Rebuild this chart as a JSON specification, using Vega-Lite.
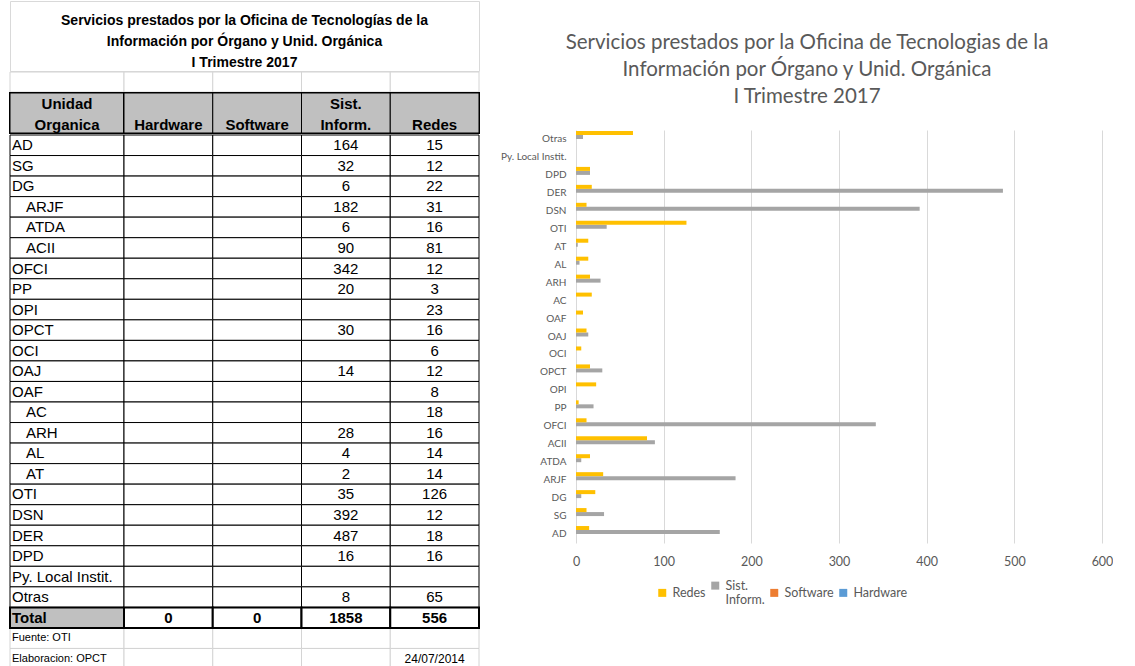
{
  "$schema": "https://vega.github.io/schema/vega-lite/v6.json",
  "background": "white",
  "padding": {"left": 8, "top": 0, "right": 0, "bottom": 0},
  "datasets": {
    "encabezado": [
      {"columna": "Unidad Organica"},
      {"columna": "Hardware"},
      {"columna": "Software"},
      {"columna": "Sist. Inform."},
      {"columna": "Redes"}
    ],
    "pie": [
      {"fila": "Fuente: OTI", "columna": "Hardware", "texto": null},
      {"fila": "Fuente: OTI", "columna": "Software", "texto": null},
      {"fila": "Fuente: OTI", "columna": "Sist. Inform.", "texto": null},
      {"fila": "Fuente: OTI", "columna": "Redes", "texto": null},
      {"fila": "Elaboracion: OPCT", "columna": "Hardware", "texto": null},
      {"fila": "Elaboracion: OPCT", "columna": "Software", "texto": null},
      {"fila": "Elaboracion: OPCT", "columna": "Sist. Inform.", "texto": null},
      {"fila": "Elaboracion: OPCT", "columna": "Redes", "texto": "24/07/2014"}
    ],
    "servicios": [
      {"unidad": "AD", "tipo": "Órgano", "serie": "Hardware", "valor": null},
      {"unidad": "AD", "tipo": "Órgano", "serie": "Software", "valor": null},
      {"unidad": "AD", "tipo": "Órgano", "serie": "Sist. Inform.", "valor": 164},
      {"unidad": "AD", "tipo": "Órgano", "serie": "Redes", "valor": 15},
      {"unidad": "SG", "tipo": "Órgano", "serie": "Hardware", "valor": null},
      {"unidad": "SG", "tipo": "Órgano", "serie": "Software", "valor": null},
      {"unidad": "SG", "tipo": "Órgano", "serie": "Sist. Inform.", "valor": 32},
      {"unidad": "SG", "tipo": "Órgano", "serie": "Redes", "valor": 12},
      {"unidad": "DG", "tipo": "Órgano", "serie": "Hardware", "valor": null},
      {"unidad": "DG", "tipo": "Órgano", "serie": "Software", "valor": null},
      {"unidad": "DG", "tipo": "Órgano", "serie": "Sist. Inform.", "valor": 6},
      {"unidad": "DG", "tipo": "Órgano", "serie": "Redes", "valor": 22},
      {"unidad": "ARJF", "tipo": "Unidad orgánica", "serie": "Hardware", "valor": null},
      {"unidad": "ARJF", "tipo": "Unidad orgánica", "serie": "Software", "valor": null},
      {"unidad": "ARJF", "tipo": "Unidad orgánica", "serie": "Sist. Inform.", "valor": 182},
      {"unidad": "ARJF", "tipo": "Unidad orgánica", "serie": "Redes", "valor": 31},
      {"unidad": "ATDA", "tipo": "Unidad orgánica", "serie": "Hardware", "valor": null},
      {"unidad": "ATDA", "tipo": "Unidad orgánica", "serie": "Software", "valor": null},
      {"unidad": "ATDA", "tipo": "Unidad orgánica", "serie": "Sist. Inform.", "valor": 6},
      {"unidad": "ATDA", "tipo": "Unidad orgánica", "serie": "Redes", "valor": 16},
      {"unidad": "ACII", "tipo": "Unidad orgánica", "serie": "Hardware", "valor": null},
      {"unidad": "ACII", "tipo": "Unidad orgánica", "serie": "Software", "valor": null},
      {"unidad": "ACII", "tipo": "Unidad orgánica", "serie": "Sist. Inform.", "valor": 90},
      {"unidad": "ACII", "tipo": "Unidad orgánica", "serie": "Redes", "valor": 81},
      {"unidad": "OFCI", "tipo": "Órgano", "serie": "Hardware", "valor": null},
      {"unidad": "OFCI", "tipo": "Órgano", "serie": "Software", "valor": null},
      {"unidad": "OFCI", "tipo": "Órgano", "serie": "Sist. Inform.", "valor": 342},
      {"unidad": "OFCI", "tipo": "Órgano", "serie": "Redes", "valor": 12},
      {"unidad": "PP", "tipo": "Órgano", "serie": "Hardware", "valor": null},
      {"unidad": "PP", "tipo": "Órgano", "serie": "Software", "valor": null},
      {"unidad": "PP", "tipo": "Órgano", "serie": "Sist. Inform.", "valor": 20},
      {"unidad": "PP", "tipo": "Órgano", "serie": "Redes", "valor": 3},
      {"unidad": "OPI", "tipo": "Órgano", "serie": "Hardware", "valor": null},
      {"unidad": "OPI", "tipo": "Órgano", "serie": "Software", "valor": null},
      {"unidad": "OPI", "tipo": "Órgano", "serie": "Sist. Inform.", "valor": null},
      {"unidad": "OPI", "tipo": "Órgano", "serie": "Redes", "valor": 23},
      {"unidad": "OPCT", "tipo": "Órgano", "serie": "Hardware", "valor": null},
      {"unidad": "OPCT", "tipo": "Órgano", "serie": "Software", "valor": null},
      {"unidad": "OPCT", "tipo": "Órgano", "serie": "Sist. Inform.", "valor": 30},
      {"unidad": "OPCT", "tipo": "Órgano", "serie": "Redes", "valor": 16},
      {"unidad": "OCI", "tipo": "Órgano", "serie": "Hardware", "valor": null},
      {"unidad": "OCI", "tipo": "Órgano", "serie": "Software", "valor": null},
      {"unidad": "OCI", "tipo": "Órgano", "serie": "Sist. Inform.", "valor": null},
      {"unidad": "OCI", "tipo": "Órgano", "serie": "Redes", "valor": 6},
      {"unidad": "OAJ", "tipo": "Órgano", "serie": "Hardware", "valor": null},
      {"unidad": "OAJ", "tipo": "Órgano", "serie": "Software", "valor": null},
      {"unidad": "OAJ", "tipo": "Órgano", "serie": "Sist. Inform.", "valor": 14},
      {"unidad": "OAJ", "tipo": "Órgano", "serie": "Redes", "valor": 12},
      {"unidad": "OAF", "tipo": "Órgano", "serie": "Hardware", "valor": null},
      {"unidad": "OAF", "tipo": "Órgano", "serie": "Software", "valor": null},
      {"unidad": "OAF", "tipo": "Órgano", "serie": "Sist. Inform.", "valor": null},
      {"unidad": "OAF", "tipo": "Órgano", "serie": "Redes", "valor": 8},
      {"unidad": "AC", "tipo": "Unidad orgánica", "serie": "Hardware", "valor": null},
      {"unidad": "AC", "tipo": "Unidad orgánica", "serie": "Software", "valor": null},
      {"unidad": "AC", "tipo": "Unidad orgánica", "serie": "Sist. Inform.", "valor": null},
      {"unidad": "AC", "tipo": "Unidad orgánica", "serie": "Redes", "valor": 18},
      {"unidad": "ARH", "tipo": "Unidad orgánica", "serie": "Hardware", "valor": null},
      {"unidad": "ARH", "tipo": "Unidad orgánica", "serie": "Software", "valor": null},
      {"unidad": "ARH", "tipo": "Unidad orgánica", "serie": "Sist. Inform.", "valor": 28},
      {"unidad": "ARH", "tipo": "Unidad orgánica", "serie": "Redes", "valor": 16},
      {"unidad": "AL", "tipo": "Unidad orgánica", "serie": "Hardware", "valor": null},
      {"unidad": "AL", "tipo": "Unidad orgánica", "serie": "Software", "valor": null},
      {"unidad": "AL", "tipo": "Unidad orgánica", "serie": "Sist. Inform.", "valor": 4},
      {"unidad": "AL", "tipo": "Unidad orgánica", "serie": "Redes", "valor": 14},
      {"unidad": "AT", "tipo": "Unidad orgánica", "serie": "Hardware", "valor": null},
      {"unidad": "AT", "tipo": "Unidad orgánica", "serie": "Software", "valor": null},
      {"unidad": "AT", "tipo": "Unidad orgánica", "serie": "Sist. Inform.", "valor": 2},
      {"unidad": "AT", "tipo": "Unidad orgánica", "serie": "Redes", "valor": 14},
      {"unidad": "OTI", "tipo": "Órgano", "serie": "Hardware", "valor": null},
      {"unidad": "OTI", "tipo": "Órgano", "serie": "Software", "valor": null},
      {"unidad": "OTI", "tipo": "Órgano", "serie": "Sist. Inform.", "valor": 35},
      {"unidad": "OTI", "tipo": "Órgano", "serie": "Redes", "valor": 126},
      {"unidad": "DSN", "tipo": "Órgano", "serie": "Hardware", "valor": null},
      {"unidad": "DSN", "tipo": "Órgano", "serie": "Software", "valor": null},
      {"unidad": "DSN", "tipo": "Órgano", "serie": "Sist. Inform.", "valor": 392},
      {"unidad": "DSN", "tipo": "Órgano", "serie": "Redes", "valor": 12},
      {"unidad": "DER", "tipo": "Órgano", "serie": "Hardware", "valor": null},
      {"unidad": "DER", "tipo": "Órgano", "serie": "Software", "valor": null},
      {"unidad": "DER", "tipo": "Órgano", "serie": "Sist. Inform.", "valor": 487},
      {"unidad": "DER", "tipo": "Órgano", "serie": "Redes", "valor": 18},
      {"unidad": "DPD", "tipo": "Órgano", "serie": "Hardware", "valor": null},
      {"unidad": "DPD", "tipo": "Órgano", "serie": "Software", "valor": null},
      {"unidad": "DPD", "tipo": "Órgano", "serie": "Sist. Inform.", "valor": 16},
      {"unidad": "DPD", "tipo": "Órgano", "serie": "Redes", "valor": 16},
      {"unidad": "Py. Local Instit.", "tipo": "Órgano", "serie": "Hardware", "valor": null},
      {"unidad": "Py. Local Instit.", "tipo": "Órgano", "serie": "Software", "valor": null},
      {"unidad": "Py. Local Instit.", "tipo": "Órgano", "serie": "Sist. Inform.", "valor": null},
      {"unidad": "Py. Local Instit.", "tipo": "Órgano", "serie": "Redes", "valor": null},
      {"unidad": "Otras", "tipo": "Órgano", "serie": "Hardware", "valor": null},
      {"unidad": "Otras", "tipo": "Órgano", "serie": "Software", "valor": null},
      {"unidad": "Otras", "tipo": "Órgano", "serie": "Sist. Inform.", "valor": 8},
      {"unidad": "Otras", "tipo": "Órgano", "serie": "Redes", "valor": 65},
      {"unidad": "Total", "tipo": "Total", "serie": "Hardware", "valor": 0},
      {"unidad": "Total", "tipo": "Total", "serie": "Software", "valor": 0},
      {"unidad": "Total", "tipo": "Total", "serie": "Sist. Inform.", "valor": 1858},
      {"unidad": "Total", "tipo": "Total", "serie": "Redes", "valor": 556}
    ]
  },
  "spacing": 19,
  "hconcat": [
    {
      "spacing": -3,
      "vconcat": [
        {
          "width": 469,
          "height": 70,
          "view": {"stroke": "#d9d9d9", "strokeWidth": 1},
          "data": {"values": [{"titulo": "Servicios prestados por la Oficina de Tecnologías de la|Información por Órgano y Unid. Orgánica|I Trimestre 2017"}]},
          "mark": {"type": "text", "lineBreak": "|", "fontWeight": "bold", "fontSize": 14, "lineHeight": 21, "align": "center", "baseline": "middle", "dy": -15, "color": "black"},
          "encoding": {"text": {"field": "titulo", "type": "nominal"}}
        },
        {
          "spacing": 0,
          "bounds": "flush",
          "hconcat": [
            {
              "width": 114,
              "height": 20,
              "data": {"name": "encabezado"},
              "transform": [{"filter": "datum.columna == 'Unidad Organica'"}],
              "mark": {"type": "rect", "fill": "white", "stroke": "#d4d4d4"},
              "encoding": {}
            },
            {
              "width": 355,
              "height": 20,
              "data": {"name": "encabezado"},
              "transform": [{"filter": "datum.columna != 'Unidad Organica'"}],
              "mark": {"type": "rect", "fill": "white", "stroke": "#d4d4d4"},
              "encoding": {
                "x": {"field": "columna", "type": "nominal", "scale": {"domain": ["Hardware", "Software", "Sist. Inform.", "Redes"], "paddingInner": 0, "paddingOuter": 0}, "axis": null}
              }
            }
          ]
        },
        {
          "spacing": 0,
          "bounds": "flush",
          "hconcat": [
            {
              "width": 114,
              "height": 40,
              "view": {"stroke": "black", "strokeWidth": 2},
              "data": {"name": "encabezado"},
              "transform": [{"filter": "datum.columna == 'Unidad Organica'"}],
              "layer": [
                {"mark": {"type": "rect", "fill": "#C0C0C0", "stroke": "black"}, "encoding": {}},
                {
                  "mark": {"type": "text", "fontWeight": "bold", "fontSize": 15, "lineBreak": " ", "lineHeight": 21, "align": "center", "baseline": "middle", "dy": -9.5, "color": "black"},
                  "encoding": {"text": {"field": "columna", "type": "nominal"}}
                }
              ]
            },
            {
              "width": 355,
              "height": 40,
              "view": {"stroke": "black", "strokeWidth": 2},
              "data": {"name": "encabezado"},
              "transform": [{"filter": "datum.columna != 'Unidad Organica'"}],
              "encoding": {
                "x": {"field": "columna", "type": "nominal", "scale": {"domain": ["Hardware", "Software", "Sist. Inform.", "Redes"], "paddingInner": 0, "paddingOuter": 0}, "axis": null}
              },
              "layer": [
                {"mark": {"type": "rect", "fill": "#C0C0C0", "stroke": "black"}},
                {
                  "transform": [{"filter": "indexof(datum.columna, ' ') >= 0"}],
                  "mark": {"type": "text", "fontWeight": "bold", "fontSize": 15, "lineBreak": " ", "lineHeight": 21, "align": "center", "baseline": "middle", "dy": -9.5, "color": "black"},
                  "encoding": {"text": {"field": "columna", "type": "nominal"}}
                },
                {
                  "transform": [{"filter": "indexof(datum.columna, ' ') < 0"}],
                  "mark": {"type": "text", "fontWeight": "bold", "fontSize": 15, "align": "center", "baseline": "middle", "dy": 11.5, "color": "black"},
                  "encoding": {"text": {"field": "columna", "type": "nominal"}}
                }
              ]
            }
          ]
        },
        {
          "spacing": 0,
          "bounds": "flush",
          "hconcat": [
            {
              "width": 114,
              "height": 534,
              "layer": [
                {
                  "data": {"name": "pie"},
                  "transform": [{"filter": "datum.columna == 'Redes'"}],
                  "mark": {"type": "rect", "fill": "white", "stroke": "#d4d4d4"},
                  "encoding": {
                    "y": {"field": "fila", "type": "nominal", "scale": {"domain": ["AD", "SG", "DG", "ARJF", "ATDA", "ACII", "OFCI", "PP", "OPI", "OPCT", "OCI", "OAJ", "OAF", "AC", "ARH", "AL", "AT", "OTI", "DSN", "DER", "DPD", "Py. Local Instit.", "Otras", "Total", "Fuente: OTI", "Elaboracion: OPCT"], "paddingInner": 0, "paddingOuter": 0}, "axis": null}
                  }
                },
                {
                  "data": {"name": "servicios"},
                  "transform": [{"filter": "datum.serie == 'Redes' && datum.tipo != 'Total'"}],
                  "mark": {"type": "rect", "fill": "white", "stroke": "black"},
                  "encoding": {"y": {"field": "unidad", "type": "nominal", "axis": null}}
                },
                {
                  "data": {"name": "servicios"},
                  "transform": [{"filter": "datum.serie == 'Redes' && datum.tipo == 'Total'"}],
                  "mark": {"type": "rect", "fill": "#C0C0C0", "stroke": "black", "strokeWidth": 2},
                  "encoding": {"y": {"field": "unidad", "type": "nominal", "axis": null}}
                },
                {
                  "data": {"name": "servicios"},
                  "transform": [{"filter": "datum.serie == 'Redes' && datum.tipo == 'Órgano'"}],
                  "mark": {"type": "text", "align": "left", "baseline": "middle", "fontSize": 15, "dx": -55, "color": "black"},
                  "encoding": {"y": {"field": "unidad", "type": "nominal", "axis": null}, "text": {"field": "unidad", "type": "nominal"}}
                },
                {
                  "data": {"name": "servicios"},
                  "transform": [{"filter": "datum.serie == 'Redes' && datum.tipo == 'Unidad orgánica'"}],
                  "mark": {"type": "text", "align": "left", "baseline": "middle", "fontSize": 15, "dx": -41, "color": "black"},
                  "encoding": {"y": {"field": "unidad", "type": "nominal", "axis": null}, "text": {"field": "unidad", "type": "nominal"}}
                },
                {
                  "data": {"name": "servicios"},
                  "transform": [{"filter": "datum.serie == 'Redes' && datum.tipo == 'Total'"}],
                  "mark": {"type": "text", "align": "left", "baseline": "middle", "fontSize": 15, "fontWeight": "bold", "dx": -55, "color": "black"},
                  "encoding": {"y": {"field": "unidad", "type": "nominal", "axis": null}, "text": {"field": "unidad", "type": "nominal"}}
                },
                {
                  "data": {"name": "pie"},
                  "transform": [{"filter": "datum.columna == 'Redes'"}],
                  "mark": {"type": "text", "align": "left", "baseline": "middle", "fontSize": 11, "dx": -55, "color": "black"},
                  "encoding": {"y": {"field": "fila", "type": "nominal", "axis": null}, "text": {"field": "fila", "type": "nominal"}}
                }
              ]
            },
            {
              "width": 355,
              "height": 534,
              "layer": [
                {
                  "data": {"name": "pie"},
                  "mark": {"type": "rect", "fill": "white", "stroke": "#d4d4d4"},
                  "encoding": {
                    "x": {"field": "columna", "type": "nominal", "scale": {"domain": ["Hardware", "Software", "Sist. Inform.", "Redes"], "paddingInner": 0, "paddingOuter": 0}, "axis": null},
                    "y": {"field": "fila", "type": "nominal", "scale": {"domain": ["AD", "SG", "DG", "ARJF", "ATDA", "ACII", "OFCI", "PP", "OPI", "OPCT", "OCI", "OAJ", "OAF", "AC", "ARH", "AL", "AT", "OTI", "DSN", "DER", "DPD", "Py. Local Instit.", "Otras", "Total", "Fuente: OTI", "Elaboracion: OPCT"], "paddingInner": 0, "paddingOuter": 0}, "axis": null}
                  }
                },
                {
                  "data": {"name": "servicios"},
                  "transform": [{"filter": "datum.tipo != 'Total'"}],
                  "mark": {"type": "rect", "fill": "white", "stroke": "black"},
                  "encoding": {
                    "x": {"field": "serie", "type": "nominal", "axis": null},
                    "y": {"field": "unidad", "type": "nominal", "axis": null}
                  }
                },
                {
                  "data": {"name": "servicios"},
                  "transform": [{"filter": "datum.tipo == 'Total'"}],
                  "mark": {"type": "rect", "fill": "white", "stroke": "black", "strokeWidth": 2},
                  "encoding": {
                    "x": {"field": "serie", "type": "nominal", "axis": null},
                    "y": {"field": "unidad", "type": "nominal", "axis": null}
                  }
                },
                {
                  "data": {"name": "servicios"},
                  "transform": [{"filter": "datum.tipo != 'Total' && isValid(datum.valor)"}],
                  "mark": {"type": "text", "align": "center", "baseline": "middle", "fontSize": 15, "color": "black"},
                  "encoding": {
                    "x": {"field": "serie", "type": "nominal", "axis": null},
                    "y": {"field": "unidad", "type": "nominal", "axis": null},
                    "text": {"field": "valor", "type": "nominal"}
                  }
                },
                {
                  "data": {"name": "servicios"},
                  "transform": [{"filter": "datum.tipo == 'Total'"}],
                  "mark": {"type": "text", "align": "center", "baseline": "middle", "fontSize": 15, "fontWeight": "bold", "color": "black"},
                  "encoding": {
                    "x": {"field": "serie", "type": "nominal", "axis": null},
                    "y": {"field": "unidad", "type": "nominal", "axis": null},
                    "text": {"field": "valor", "type": "nominal"}
                  }
                },
                {
                  "data": {"name": "pie"},
                  "transform": [{"filter": "isValid(datum.texto)"}],
                  "mark": {"type": "text", "align": "center", "baseline": "middle", "fontSize": 12, "color": "black"},
                  "encoding": {
                    "x": {"field": "columna", "type": "nominal", "axis": null},
                    "y": {"field": "fila", "type": "nominal", "axis": null},
                    "text": {"field": "texto", "type": "nominal"}
                  }
                }
              ]
            }
          ]
        }
      ]
    },
    {
      "spacing": 17,
      "vconcat": [
        {
          "width": 526,
          "height": 112,
          "data": {"values": [{"titulo": "Servicios prestados por la Oficina de Tecnologias de la|Información por Órgano y Unid. Orgánica|I Trimestre 2017"}]},
          "mark": {"type": "text", "lineBreak": "|", "font": "Lato", "fontSize": 20.5, "color": "#595959", "lineHeight": 27, "align": "center", "baseline": "middle", "dx": -32, "dy": -14},
          "encoding": {"text": {"field": "titulo", "type": "nominal"}}
        },
        {
          "width": 526,
          "height": 413,
          "data": {"name": "servicios"},
          "transform": [{"filter": "datum.tipo != 'Total'"}],
          "mark": {"type": "bar"},
          "encoding": {
            "y": {
              "field": "unidad",
              "type": "nominal",
              "sort": ["Otras", "Py. Local Instit.", "DPD", "DER", "DSN", "OTI", "AT", "AL", "ARH", "AC", "OAF", "OAJ", "OCI", "OPCT", "OPI", "PP", "OFCI", "ACII", "ATDA", "ARJF", "DG", "SG", "AD"],
              "scale": {"paddingInner": 0.11, "paddingOuter": 0.055},
              "axis": {"title": null, "domain": false, "ticks": false, "labelFont": "Lato", "labelFontSize": 10, "labelColor": "#595959", "labelPadding": 10}
            },
            "x": {
              "field": "valor",
              "type": "quantitative",
              "scale": {"domain": [0, 600], "nice": false},
              "axis": {"title": null, "values": [0, 100, 200, 300, 400, 500, 600], "domain": false, "ticks": false, "gridColor": "#d9d9d9", "labelFont": "Lato", "labelFontSize": 12.5, "labelColor": "#595959", "labelPadding": 12, "labelFlush": false}
            },
            "yOffset": {"field": "serie", "type": "nominal", "sort": ["Redes", "Sist. Inform.", "Software", "Hardware"]},
            "color": {
              "field": "serie",
              "type": "nominal",
              "scale": {"domain": ["Redes", "Sist. Inform.", "Software", "Hardware"], "range": ["#FFC000", "#A5A5A5", "#ED7D31", "#5B9BD5"]},
              "legend": {"orient": "none", "legendX": 646, "legendY": 578, "direction": "horizontal", "title": null, "symbolType": "square", "symbolSize": 64, "symbolStrokeWidth": 0, "labelFont": "Lato", "labelFontSize": 12.5, "labelColor": "#595959", "labelExpr": "split(datum.label, ' ')", "labelBaseline": "middle", "labelLineHeight": 19, "labelOffset": 4, "columnPadding": 3}
            }
          }
        }
      ]
    }
  ],
  "config": {
    "view": {"stroke": null},
    "font": "Liberation Sans"
  }
}
